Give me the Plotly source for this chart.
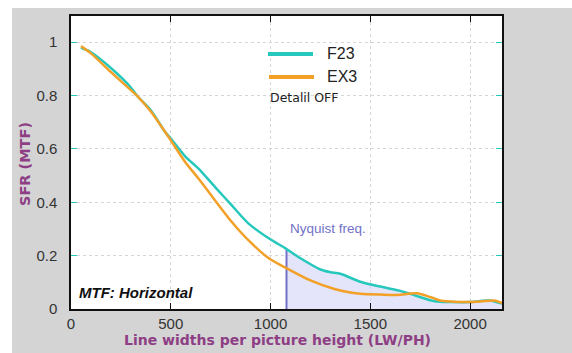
import numpy as np
import plotly.graph_objects as go

# Data
lw_f23 = [50, 100, 200, 300, 330, 400, 472, 500, 572, 639, 722, 806, 890, 995, 1075,
          1150, 1250, 1300, 1350, 1450, 1550, 1650, 1700, 1750, 1800, 1850, 1900, 2000, 2050, 2100, 2160]
sfr_f23 = [0.98, 0.962, 0.903, 0.83, 0.80, 0.745, 0.663, 0.639, 0.572, 0.526, 0.457, 0.388, 0.32, 0.263, 0.227,
           0.19, 0.148, 0.138, 0.132, 0.102, 0.084, 0.068, 0.057, 0.045, 0.033, 0.027, 0.026, 0.026, 0.03, 0.032, 0.02]

lw_ex3 = [50, 100, 200, 300, 330, 400, 472, 500, 572, 639, 722, 806, 890, 995, 1075,
          1200, 1316, 1400, 1450, 1550, 1650, 1700, 1735, 1800, 1850, 1900, 1985, 2050, 2120, 2160]
sfr_ex3 = [0.985, 0.958, 0.888, 0.82, 0.80, 0.74, 0.663, 0.632, 0.551, 0.489, 0.407, 0.326, 0.257, 0.188, 0.155,
           0.107, 0.076, 0.062, 0.057, 0.054, 0.053, 0.058, 0.059, 0.045, 0.032, 0.028, 0.026, 0.028, 0.032, 0.022]

nyquist = 1080
x_ticks = [0, 500, 1000, 1500, 2000]
y_ticks = [0, 0.2, 0.4, 0.6, 0.8, 1]
y_tick_text = ["0", "0.2", "0.4", "0.6", "0.8", "1"]

TEAL = "rgb(38,200,188)"
ORANGE = "rgb(242,160,40)"
PURPLE = "#8E3E85"
NYQ = "#7272C8"

fig = go.Figure()

# shaded area beyond Nyquist under F23
ny_val = float(np.interp(nyquist, lw_f23, sfr_f23))
fx = [nyquist] + [x for x in lw_f23 if x > nyquist]
fy = [ny_val] + [y for x, y in zip(lw_f23, sfr_f23) if x > nyquist]
fig.add_trace(go.Scatter(x=fx, y=fy, mode="lines", line=dict(width=0, shape="spline", smoothing=0.8),
                         fill="tozeroy", fillcolor="rgba(205,205,245,0.55)",
                         hoverinfo="skip", showlegend=False))
# Nyquist line
fig.add_trace(go.Scatter(x=[nyquist, nyquist], y=[0, ny_val], mode="lines",
                         line=dict(color=NYQ, width=2), showlegend=False))

fig.add_trace(go.Scatter(x=lw_f23, y=sfr_f23, mode="lines", name="F23",
                         line=dict(color=TEAL, width=2.5, shape="spline", smoothing=0.8), showlegend=False))
fig.add_trace(go.Scatter(x=lw_ex3, y=sfr_ex3, mode="lines", name="EX3",
                         line=dict(color=ORANGE, width=2.5, shape="spline", smoothing=0.8), showlegend=False))

L, R, T, B = 71, 70, 16, 44
W, H = 572, 353
pw = W - L - R
ph = H - T - B

def px2x(p):
    return (p - L) / pw

def py2y(p):
    return (H - B - p) / ph

shapes = [
    dict(type="rect", xref="paper", yref="paper", x0=px2x(0), x1=px2x(W), y0=py2y(0), y1=py2y(8),
         fillcolor="white", line=dict(width=0), layer="below"),
    dict(type="rect", xref="paper", yref="paper", x0=px2x(0), x1=px2x(12), y0=py2y(0), y1=py2y(H),
         fillcolor="white", line=dict(width=0), layer="below"),
    dict(type="line", xref="paper", yref="paper", x0=px2x(268), x1=px2x(313), y0=py2y(54), y1=py2y(54),
         line=dict(color=TEAL, width=4)),
    dict(type="line", xref="paper", yref="paper", x0=px2x(269), x1=px2x(314), y0=py2y(77), y1=py2y(77),
         line=dict(color=ORANGE, width=4)),
]

annotations = [
    dict(text="F23", xref="paper", yref="paper", x=px2x(325), y=py2y(53), xanchor="left", yanchor="middle",
         showarrow=False, font=dict(family="Liberation Sans, Arial", size=16, color="#222")),
    dict(text="EX3", xref="paper", yref="paper", x=px2x(325), y=py2y(76), xanchor="left", yanchor="middle",
         showarrow=False, font=dict(family="Liberation Sans, Arial", size=16, color="#222")),
    dict(text="Detalil OFF", xref="paper", yref="paper", x=px2x(268), y=py2y(97), xanchor="left", yanchor="middle",
         showarrow=False, font=dict(family="DejaVu Sans", size=12.5, color="#222")),
    dict(text="<b><i>MTF: Horizontal</i></b>", xref="paper", yref="paper", x=px2x(77), y=py2y(292),
         xanchor="left", yanchor="middle", showarrow=False,
         font=dict(family="Liberation Sans, Arial", size=15, color="#111")),
    dict(text="Nyquist freq.", xref="paper", yref="paper", x=px2x(288), y=py2y(228),
         xanchor="left", yanchor="middle", showarrow=False,
         font=dict(family="Liberation Sans, Arial", size=13.5, color=NYQ)),
    # axis titles
    dict(text="<b>Line widths per picture height (LW/PH)</b>", xref="paper", yref="paper",
         x=px2x(277), y=py2y(340), xanchor="center", yanchor="middle", showarrow=False,
         font=dict(family="DejaVu Sans", size=14, color=PURPLE)),
    dict(text="<b>SFR (MTF)</b>", xref="paper", yref="paper", textangle=-90,
         x=px2x(25), y=py2y(164), xanchor="center", yanchor="middle", showarrow=False,
         font=dict(family="DejaVu Sans", size=14.5, color=PURPLE)),
]

tickfont = dict(family="Liberation Sans, Arial", size=15, color="#333")

fig.update_layout(
    width=W, height=H,
    margin=dict(l=L, r=R, t=T, b=B, pad=0),
    paper_bgcolor="#D4D4D4",
    plot_bgcolor="white",
    shapes=shapes,
    annotations=annotations,
    showlegend=False,
    xaxis=dict(
        range=[0, 2160], tickvals=x_ticks, ticks="inside", ticklen=6, tickcolor="#111",
        showline=True, linecolor="#111", linewidth=1.5, mirror="allticks",
        showgrid=True, gridcolor="#D6D6D6", griddash="dot", gridwidth=1, zeroline=False,
        tickfont=tickfont, ticklabelstandoff=0, automargin=False,
    ),
    yaxis=dict(
        range=[0, 1.098], tickvals=y_ticks, ticktext=y_tick_text, ticks="inside", ticklen=6, tickcolor=TEAL,
        showline=True, linecolor="#111", linewidth=1.5, mirror="allticks",
        showgrid=True, gridcolor="#D6D6D6", griddash="dot", gridwidth=1, zeroline=False,
        tickfont=tickfont, ticklabelstandoff=9, automargin=False,
    ),
)

fig.write_html("out.html")
